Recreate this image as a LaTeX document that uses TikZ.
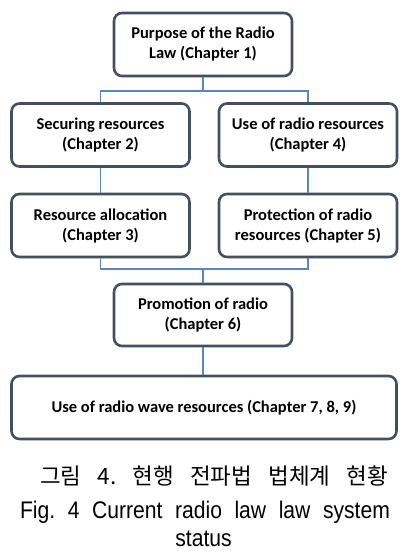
\documentclass[tikz,border=0pt]{standalone}
\usepackage{fontspec}
\newfontfamily\boxfont{Carlito}
\newfontfamily\krfont{Noto Sans CJK KR}
\newfontfamily\capfont[FakeStretch=0.88]{Liberation Sans}
\usetikzlibrary{positioning, calc}
\frenchspacing

\definecolor{framegray}{RGB}{69,80,94}
\definecolor{linkblue}{RGB}{91,132,196}

\begin{document}
\begin{tikzpicture}[
    x=1pt, y=-1pt,
    % Styles
    chapter/.style={ % Chapter box
        rectangle,
        rounded corners=8pt,
        draw=framegray,
        line width=2.6pt,
        minimum width=178pt,
        minimum height=63pt,
        align=center,
        inner sep=2pt,
        font=\boxfont\bfseries\fontsize{16.5pt}{20pt}\selectfont
    },
    widechapter/.style={ % Box over the full width
        chapter,
        minimum width=385pt
    },
    link/.style={ % Blue connectors
        draw=linkblue,
        line width=1.3pt
    },
    caption/.style={ % Caption lines
        anchor=base,
        inner sep=0pt
    }
]

    % Fixes the page size
    \useasboundingbox (0,0) rectangle (418,556);

    % Chapter boxes
    \node [chapter] (purpose) at (203,44.5) {Purpose of the Radio\\Law (Chapter 1)};
    \node [chapter] (secure) at (100.5,135) {Securing resources\\(Chapter 2)};
    \node [chapter] (usage) at (308,135) {Use of radio resources\\(Chapter 4)};
    \node [chapter] (alloc) at (100.5,225.5) {Resource allocation\\(Chapter 3)};
    \node [chapter] (protect) at (308,225.5) {Protection of radio\\resources (Chapter 5)};
    \node [chapter, minimum height=62pt] (promo) at (203,315) {Promotion of radio\\(Chapter 6)};
    \node [widechapter] (wave) at (204,407.5) {Use of radio wave resources (Chapter 7, 8, 9)};

    % Junctions of the connectors
    \coordinate (topjoin) at (203,91);
    \coordinate (botjoin) at (203,269);

    % Connectors
    \draw [link] (purpose.south) -- (topjoin);
    \draw [link] (secure.north) |- (topjoin);
    \draw [link] (usage.north) |- (topjoin);
    \draw [link] (secure) -- (alloc);
    \draw [link] (usage) -- (protect);
    \draw [link] (alloc.south) |- (botjoin);
    \draw [link] (protect.south) |- (botjoin);
    \draw [link] (botjoin) -- (promo.north);
    \draw [link] (promo.south) -- (promo.south |- wave.north);

    % Caption
    \node [caption] (capkr) at (214,484)
        {\krfont\fontsize{22.5pt}{26pt}\selectfont\makebox[348pt][s]{그림 4. 현행 전파법 법체계 현황}};
    \node [caption] (capen) at (205,518)
        {\capfont\fontsize{24pt}{28pt}\selectfont\makebox[370pt][s]{Fig. 4 Current radio law law system}};
    \node [caption] (capend) at (203.5,546)
        {\capfont\fontsize{24pt}{28pt}\selectfont status};
\end{tikzpicture}
\end{document}
